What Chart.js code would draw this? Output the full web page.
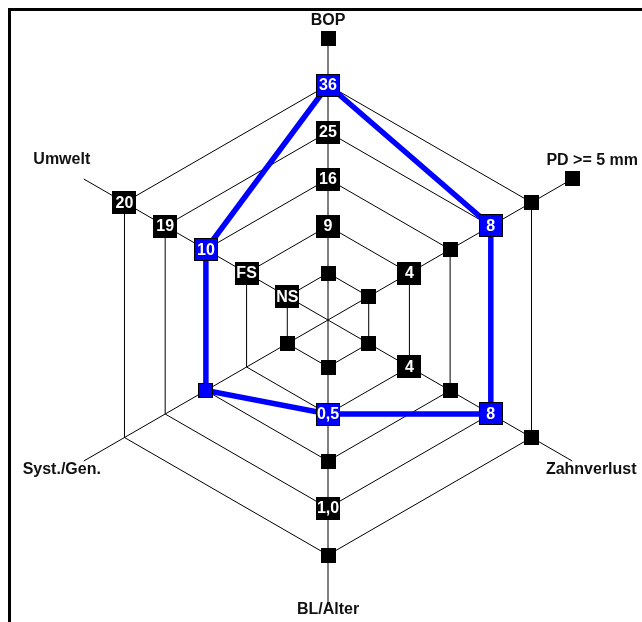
<!DOCTYPE html>
<html>
<head>
<meta charset="utf-8">
<script src="https://cdn.jsdelivr.net/npm/chart.js@4.4.1/dist/chart.umd.min.js"></script>
<style>
  html, body { margin: 0; padding: 0; background: #fff; overflow: hidden; }
  #frame { position: absolute; left: 8px; top: 8px; width: 700px; height: 700px;
           border-left: 3px solid #000; border-top: 3px solid #000; }
  #c { position: absolute; left: 0; top: 0; }
</style>
</head>
<body>
<div id="frame"></div>
<canvas id="c" width="642" height="622"></canvas>
<script>
// ---- data ----
const axisLabels = ['BOP', 'PD >= 5 mm', 'Zahnverlust', 'BL/Alter', 'Syst./Gen.', 'Umwelt'];
const patientLevel = [5, 4, 4, 2, 3, 3];
// marker labels for levels 1..n on each axis ('' = blank square, null = no marker)
const bopTicks    = ['', '9', '16', '25', '36', ''];
const pdTicks     = ['', '4', '', '8', '', ''];
const zahnTicks   = ['', '4', '', '8', ''];
const blTicks     = ['', '0,5', '', '1,0', ''];
const systTicks   = ['', null, '', null, null];
const umweltTicks = ['NS', 'FS', '10', '19', '20'];
const axisTicks = [bopTicks, pdTicks, zahnTicks, blTicks, systTicks, umweltTicks];
const maxLevel = 6;
const gridLevels = 5;

const BLUE = '#0000ff';
const FONT = 'bold 16px "Liberation Sans", Arial, sans-serif';

const markerPlugin = {
  id: 'markers',
  afterDatasetsDraw(chart) {
    const scale = chart.scales.r;
    const ctx = chart.ctx;
    ctx.save();
    ctx.font = FONT;
    ctx.textAlign = 'center';
    ctx.textBaseline = 'middle';
    axisTicks.forEach((ticks, i) => {
      ticks.forEach((lab, k) => {
        if (lab === null) return;
        const level = k + 1;
        const p = scale.getPointPositionForValue(i, level);
        const isPatient = patientLevel[i] === level;
        const w = lab === '' ? 15 : 24;
        const h = lab === '' ? 15 : 23;
        const x = Math.round(p.x - w / 2), y = Math.round(p.y - h / 2);
        ctx.fillStyle = isPatient ? BLUE : '#000';
        ctx.fillRect(x, y, w, h);
        if (isPatient) {
          ctx.strokeStyle = '#000';
          ctx.lineWidth = 1;
          ctx.strokeRect(x + 0.5, y + 0.5, w - 1, h - 1);
        }
        if (lab !== '') {
          ctx.fillStyle = '#fff';
          ctx.fillText(lab, p.x, p.y + 1);
        }
      });
    });
    // axis titles
    const offs = [[0, -17], [20, -18], [19, 9], [0, 8], [-22, 9], [-22, -19]];
    ctx.fillStyle = '#111';
    axisLabels.forEach((t, i) => {
      const p = scale.getPointPositionForValue(i, maxLevel);
      ctx.fillText(t, p.x + offs[i][0], p.y + offs[i][1]);
    });
    ctx.restore();
  }
};

new Chart(document.getElementById('c'), {
  type: 'radar',
  data: {
    labels: axisLabels,
    datasets: [{
      data: patientLevel,
      borderColor: BLUE,
      borderWidth: 5.5,
      fill: false,
      pointRadius: 0,
      pointHoverRadius: 0,
      tension: 0
    }]
  },
  options: {
    responsive: false,
    animation: false,
    devicePixelRatio: 1,
    layout: { padding: { left: 46, right: 32, top: 38, bottom: 20 } },
    plugins: { legend: { display: false }, tooltip: { enabled: false } },
    scales: {
      r: {
        min: 0,
        max: maxLevel,
        ticks: { display: false, stepSize: 1 },
        pointLabels: { display: false },
        grid: {
          color: '#000',
          lineWidth: (c) => (c.tick && c.tick.value > gridLevels ? 0 : 1)
        },
        angleLines: { color: '#000', lineWidth: 1 }
      }
    }
  },
  plugins: [markerPlugin]
});
</script>
</body>
</html>
